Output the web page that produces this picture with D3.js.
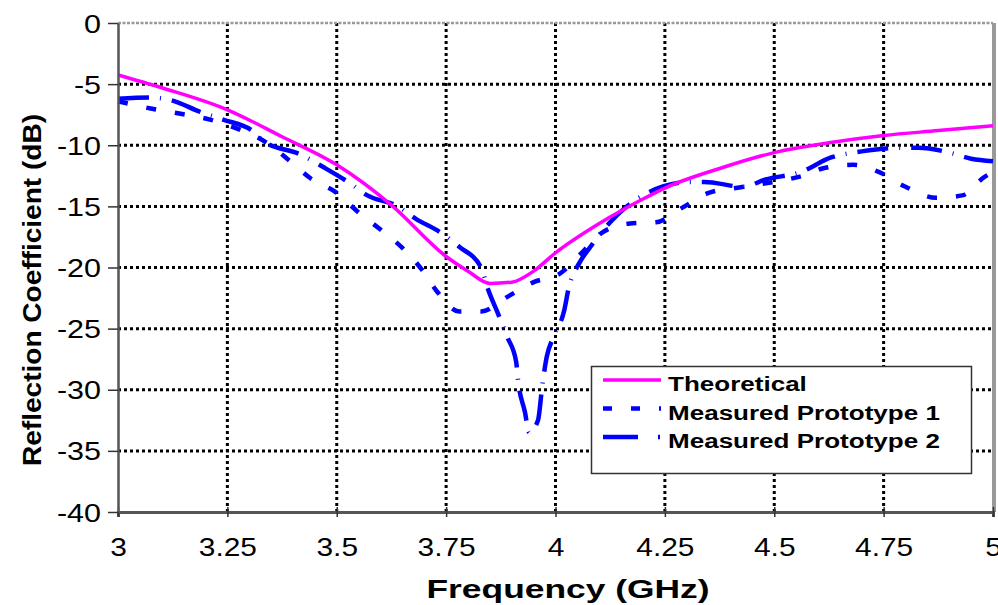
<!DOCTYPE html>
<html>
<head>
<meta charset="utf-8">
<script src="https://cdn.jsdelivr.net/npm/d3@7"></script>
<style>
  body { margin: 0; background: #fff; }
  text { font-family: "Liberation Sans", Arial, sans-serif; }
</style>
</head>
<body>
<script>
// chart data
var xTicks = [3, 3.25, 3.5, 3.75, 4, 4.25, 4.5, 4.75, 5]
var xTickLabels = ["3", "3.25", "3.5", "3.75", "4", "4.25", "4.5", "4.75", "5"]
var yTicks = [0, -5, -10, -15, -20, -25, -30, -35, -40]
var yTickLabels = ["0", "-5", "-10", "-15", "-20", "-25", "-30", "-35", "-40"]
var seriesNames = ["Theoretical", "Measured Prototype 1", "Measured Prototype 2"]

var theoF = [3.0, 3.1, 3.25, 3.375, 3.5, 3.625, 3.75, 3.8, 3.85, 3.9, 3.95, 4.0, 4.1, 4.2, 4.25, 4.375, 4.5, 4.625, 4.75, 4.875, 5.0]
var theoDb = [-4.25, -5.3, -7.1, -9.3, -11.6, -14.9, -19.1, -20.3, -21.3, -21.2, -20.3, -18.8, -16.4, -14.4, -13.5, -11.9, -10.6, -9.8, -9.2, -8.8, -8.4]

var p1F = [3.0, 3.075, 3.14, 3.21, 3.28, 3.34, 3.39, 3.44, 3.5, 3.55, 3.6, 3.65, 3.695, 3.73, 3.78, 3.83, 3.89, 3.95, 4.01, 4.06, 4.1, 4.17, 4.23, 4.29, 4.35, 4.43, 4.53, 4.575, 4.61, 4.68, 4.74, 4.8, 4.87, 4.93, 4.98, 5.0]
var p1Db = [-6.4, -7.0, -7.4, -7.9, -8.75, -9.8, -11.2, -12.7, -13.9, -15.5, -16.9, -18.4, -20.2, -22.0, -23.6, -23.6, -22.4, -21.2, -20.5, -18.8, -17.3, -16.4, -16.3, -15.1, -13.9, -13.4, -12.8, -12.4, -11.9, -11.6, -12.2, -13.4, -14.3, -14.1, -12.6, -12.2]

var p2F = [3.0, 3.075, 3.12, 3.19, 3.24, 3.31, 3.33, 3.42, 3.47, 3.53, 3.57, 3.64, 3.68, 3.74, 3.78, 3.83, 3.845, 3.87, 3.89, 3.91, 3.915, 3.93, 3.94, 3.96, 3.97, 3.98, 3.995, 4.02, 4.03, 4.055, 4.08, 4.13, 4.16, 4.21, 4.31, 4.34, 4.43, 4.48, 4.56, 4.63, 4.7, 4.79, 4.83, 4.9, 4.95, 5.0]
var p2Db = [-6.2, -6.1, -6.3, -7.3, -7.9, -8.9, -9.6, -10.8, -11.8, -13.1, -14.1, -15.0, -16.0, -17.2, -18.3, -20.0, -21.7, -23.9, -25.7, -27.7, -29.4, -31.8, -33.5, -32.5, -29.6, -27.3, -25.7, -23.5, -21.7, -19.6, -18.3, -16.1, -15.1, -13.9, -13.0, -13.0, -13.4, -12.8, -12.2, -11.0, -10.5, -10.2, -10.2, -10.6, -11.1, -11.3]

var W = 998, H = 605
// (not "top": that name is taken by window.top)
var plotLeft = 118, plotRight = 993, plotTop = 23, plotBottom = 512

var svg = d3.select("body")
  .append("svg")
  .attr("width", W)
  .attr("height", H)

var x = d3.scaleLinear().domain([3, 5]).range([plotLeft, plotRight])
var y = d3.scaleLinear().domain([-40, 0]).range([plotBottom, plotTop])

// dotted grid
svg.append("g")
  .selectAll("line")
  .data(xTicks.slice(1, -1))
  .enter()
  .append("line")
  .attr("x1", function (d) { return x(d) })
  .attr("x2", function (d) { return x(d) })
  .attr("y1", plotTop)
  .attr("y2", plotBottom)
  .attr("stroke", "#000")
  .attr("stroke-width", 3)
  .attr("stroke-dasharray", "3,3")

svg.append("g")
  .selectAll("line")
  .data(yTicks.slice(1, -1))
  .enter()
  .append("line")
  .attr("x1", plotLeft)
  .attr("x2", plotRight)
  .attr("y1", function (d) { return y(d) })
  .attr("y2", function (d) { return y(d) })
  .attr("stroke", "#000")
  .attr("stroke-width", 3)
  .attr("stroke-dasharray", "3,3")

// top edge (gray dotted) and right edge
svg.append("line")
  .attr("x1", plotLeft).attr("x2", plotRight)
  .attr("y1", y(0)).attr("y2", y(0))
  .attr("stroke", "#999")
  .attr("stroke-width", 2.5)
  .attr("stroke-dasharray", "3,1.5")

svg.append("line")
  .attr("x1", x(5) + 1).attr("x2", x(5) + 1)
  .attr("y1", plotTop).attr("y2", plotBottom)
  .attr("stroke", "#999")
  .attr("stroke-width", 4)

// the curves
var line = d3.line()
  .x(function (d) { return x(d[0]) })
  .y(function (d) { return y(d[1]) })
  .curve(d3.curveMonotoneX)

var series = [
  { name: seriesNames[0], pts: d3.zip(theoF, theoDb), color: "#ff00ff", width: 3.5, dash: null },
  { name: seriesNames[1], pts: d3.zip(p1F, p1Db), color: "#0000ff", width: 4.5, dash: "10,19" },
  { name: seriesNames[2], pts: d3.zip(p2F, p2Db), color: "#0000ff", width: 4.5, dash: "31,11,1,11" }
]

// draw the measured ones first so the theory line sits on top
svg.append("g")
  .selectAll("path")
  .data([series[1], series[2], series[0]])
  .enter()
  .append("path")
  .attr("d", function (d) { return line(d.pts) })
  .attr("fill", "none")
  .attr("stroke", function (d) { return d.color })
  .attr("stroke-width", function (d) { return d.width })
  .attr("stroke-dasharray", function (d) { return d.dash })

// axes
var xAxis = svg.append("g")
  .attr("transform", "translate(0," + plotBottom + ")")
  .call(d3.axisBottom(x)
    .tickValues(xTicks)
    .tickFormat(function (d, i) { return xTickLabels[i] })
    .tickSize(5)
    .tickPadding(0))

xAxis.select(".domain").attr("stroke", "#555").attr("stroke-width", 3)
xAxis.selectAll(".tick line").attr("stroke", "#333").attr("stroke-width", 1.5).attr("y1", -5)
xAxis.selectAll(".tick text")
  .attr("font-size", 26)
  .attr("fill", "#000")
  .attr("dy", null)
  .attr("y", 44)
  .attr("transform", "scale(1.15,1)")

var yAxis = svg.append("g")
  .attr("transform", "translate(" + plotLeft + ",0)")
  .call(d3.axisLeft(y)
    .tickValues(yTicks)
    .tickFormat(function (d, i) { return yTickLabels[i] })
    .tickSize(10)
    .tickSizeOuter(0))

yAxis.select(".domain").attr("stroke", "#555").attr("stroke-width", 2.5)
yAxis.selectAll(".tick line").attr("stroke", "#333").attr("stroke-width", 1.5)
yAxis.selectAll(".tick text")
  .attr("font-size", 25)
  .attr("fill", "#000")
  .attr("x", -17 / 1.22)
  .attr("dy", "0.36em")
  .attr("transform", "scale(1.22,1)")

// axis titles
svg.append("text")
  .attr("x", 568)
  .attr("y", 598)
  .attr("text-anchor", "middle")
  .attr("font-size", 25.5)
  .attr("font-weight", "bold")
  .attr("textLength", 283)
  .attr("lengthAdjust", "spacingAndGlyphs")
  .text("Frequency (GHz)")

svg.append("text")
  .attr("transform", "translate(41,290) rotate(-90)")
  .attr("text-anchor", "middle")
  .attr("font-size", 25)
  .attr("font-weight", "bold")
  .attr("textLength", 352)
  .attr("lengthAdjust", "spacingAndGlyphs")
  .text("Reflection Coefficient (dB)")

// legend
var legend = svg.append("g")

legend.append("rect")
  .attr("x", 591.5)
  .attr("y", 366.5)
  .attr("width", 380)
  .attr("height", 107)
  .attr("fill", "#fff")
  .attr("stroke", "#333")
  .attr("stroke-width", 1.5)

var rows = legend.selectAll("g.row")
  .data(series)
  .enter()
  .append("g")
  .attr("class", "row")
  .attr("transform", function (d, i) { return "translate(0," + (380 + i * 28.5) + ")" })

rows.append("line")
  .attr("x1", 603)
  .attr("x2", 661)
  .attr("stroke", function (d) { return d.color })
  .attr("stroke-width", function (d) { return d.width })
  .attr("stroke-dasharray", function (d, i) { return i == 1 ? "9,19" : (i == 2 ? "35,20,2,20" : null) })

rows.append("text")
  .attr("transform", "translate(668,0) scale(1.24,1)")
  .attr("dy", 11)
  .attr("font-size", 21)
  .attr("font-weight", "bold")
  .text(function (d) { return d.name })
</script>
</body>
</html>
